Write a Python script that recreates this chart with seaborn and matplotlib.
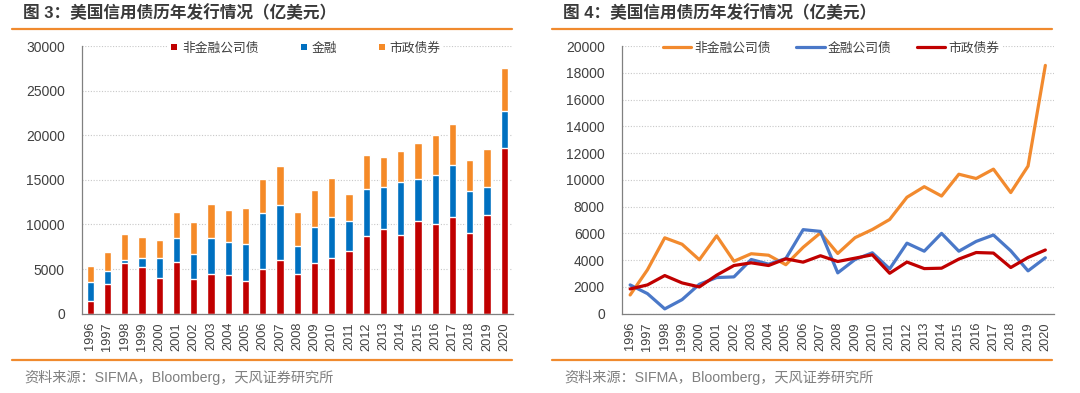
import numpy as np
import pandas as pd
import matplotlib
matplotlib.use("Agg")
import matplotlib.pyplot as plt
import seaborn as sns
from matplotlib.lines import Line2D
from matplotlib.ticker import FixedLocator, MultipleLocator

# ---------------- data (亿美元) ----------------
years = [str(y) for y in range(1996, 2021)]
nonfin = [1400, 3280, 5670, 5190, 4030, 5820, 3920, 4480, 4370, 3660, 4960, 6040, 4500,
          5680, 6290, 7040, 8700, 9490, 8790, 10420, 10100, 10800, 9050, 11030, 18550]
fin = [2150, 1500, 360, 1050, 2200, 2700, 2750, 4050, 3700, 4120, 6280, 6150, 3050,
       4050, 4550, 3350, 5270, 4670, 6000, 4670, 5400, 5880, 4700, 3200, 4180]
muni = [1850, 2150, 2850, 2300, 2000, 2880, 3600, 3800, 3600, 4100, 3850, 4330, 3900,
        4150, 4400, 3020, 3860, 3370, 3400, 4080, 4570, 4530, 3450, 4200, 4760]

lab_left = ["非金融公司债", "金融", "市政债券"]
lab_right = ["非金融公司债", "金融公司债", "市政债券"]
title_left = "图 3：美国信用债历年发行情况（亿美元）"
title_right = "图 4：美国信用债历年发行情况（亿美元）"
source = "资料来源：SIFMA，Bloomberg，天风证券研究所"

# ---------------- style ----------------
sns.set_style("white")
FAM = ["Liberation Sans", "Noto Sans CJK SC", "DejaVu Sans"]
plt.rcParams["font.family"] = FAM

RED = "#C00000"
BLUE = "#0070C0"
ORANGE = "#F58A27"
L_ORANGE = "#F28A2E"
L_BLUE = "#4A78C8"
L_RED = "#C00000"
TXT = "#404040"
SEP = "#F08A2E"

fig = plt.figure(figsize=(10.8, 3.93), dpi=100)
W, H = 1080, 393


def fx(px):
    return px / W


def fy(py):
    return 1 - py / H


def style_axes(ax, ymax, ystep):
    ax.set_xlim(-0.5, len(years) - 0.5)
    ax.set_ylim(0, ymax)
    ax.yaxis.set_major_locator(MultipleLocator(ystep))
    ax.grid(axis="y", color="#C8C8C8", linestyle=(0, (1, 1.5)), linewidth=0.8)
    ax.grid(axis="x", visible=False)
    ax.set_axisbelow(True)
    for s in ["top", "right"]:
        ax.spines[s].set_visible(False)
    for s in ["left", "bottom"]:
        ax.spines[s].set_color("#808080")
        ax.spines[s].set_linewidth(0.9)
    ax.set_xticks(range(len(years)))
    ax.set_xticklabels(years, rotation=90, fontsize=9.2, color=TXT)
    ax.xaxis.set_minor_locator(FixedLocator(np.arange(-0.5, len(years), 1.0)))
    ax.tick_params(axis="x", which="major", length=0, pad=6)
    ax.tick_params(axis="x", which="minor", length=3.5, width=0.9, color="#808080", direction="out")
    ax.tick_params(axis="y", which="major", length=3, width=0.9, color="#808080",
                   direction="out", labelsize=10, labelcolor=TXT, pad=9)
    ax.set_xlabel("")
    ax.set_ylabel("")


# ---------------- left: stacked bars ----------------
axL = fig.add_axes([fx(81.5), fy(313.7), fx(513 - 81.5), (313.7 - 46) / H])
df = pd.DataFrame({"year": years, "nonfin": nonfin, "fin": fin, "muni": muni})
df["top_fin"] = df["nonfin"] + df["fin"]
df["total"] = df["top_fin"] + df["muni"]
sns.barplot(data=df, x="year", y="total", color=ORANGE, saturation=1, width=0.42, ax=axL)
sns.barplot(data=df, x="year", y="top_fin", color=BLUE, saturation=1, width=0.42, ax=axL)
sns.barplot(data=df, x="year", y="nonfin", color=RED, saturation=1, width=0.42, ax=axL)
style_axes(axL, 30000, 5000)

hL = [Line2D([], [], marker="s", linestyle="none", markersize=5, color=c,
             markeredgewidth=0) for c in (RED, BLUE, ORANGE)]
legL = axL.legend(hL, lab_left, loc="center", bbox_to_anchor=(0.52, 0.99), ncol=3,
                  frameon=True, fontsize=9.2, handlelength=0.5, handletextpad=0.35,
                  columnspacing=3.3, borderpad=0.2, framealpha=1)
legL.get_frame().set_edgecolor("white")
legL.get_frame().set_linewidth(0)
for t in legL.get_texts():
    t.set_color(TXT)

# ---------------- right: lines ----------------
axR = fig.add_axes([fx(621.5), fy(313.7), fx(1054 - 621.5), (313.7 - 46) / H])
dl = pd.DataFrame({"year": years * 3,
                   "value": nonfin + fin + muni,
                   "series": [lab_right[0]] * 25 + [lab_right[1]] * 25 + [lab_right[2]] * 25})
sns.lineplot(data=dl, x="year", y="value", hue="series", sort=False,
             palette=[L_ORANGE, L_BLUE, L_RED], linewidth=2.3, ax=axR, legend=False)
style_axes(axR, 20000, 2000)

hR = [Line2D([], [], color=c, linewidth=2.3) for c in (L_ORANGE, L_BLUE, L_RED)]
legR = axR.legend(hR, lab_right, loc="center", bbox_to_anchor=(0.485, 0.99), ncol=3,
                  frameon=True, fontsize=9.2, handlelength=2.2, handletextpad=0.25,
                  columnspacing=2.0, borderpad=0.2, framealpha=1)
legR.get_frame().set_edgecolor("white")
legR.get_frame().set_linewidth(0)
for t in legR.get_texts():
    t.set_color(TXT)

# ---------------- titles, separators, sources ----------------
for x0, title in ((23, title_left), (563, title_right)):
    fig.text(fx(x0), fy(13), title, fontsize=12, fontweight="bold", color="#3A3A3A",
             ha="left", va="center", family=FAM)
    fig.text(fx(x0 + 1), fy(377), source, fontsize=10.2, color="#7F7F7F",
             ha="left", va="center", family=FAM)

for x0, x1 in ((12, 512), (552, 1052)):
    for yy in (28.5, 359.5):
        fig.add_artist(Line2D([fx(x0), fx(x1)], [fy(yy), fy(yy)], color=SEP, linewidth=1.6))

fig.savefig("out.png", dpi=100, facecolor="white")
